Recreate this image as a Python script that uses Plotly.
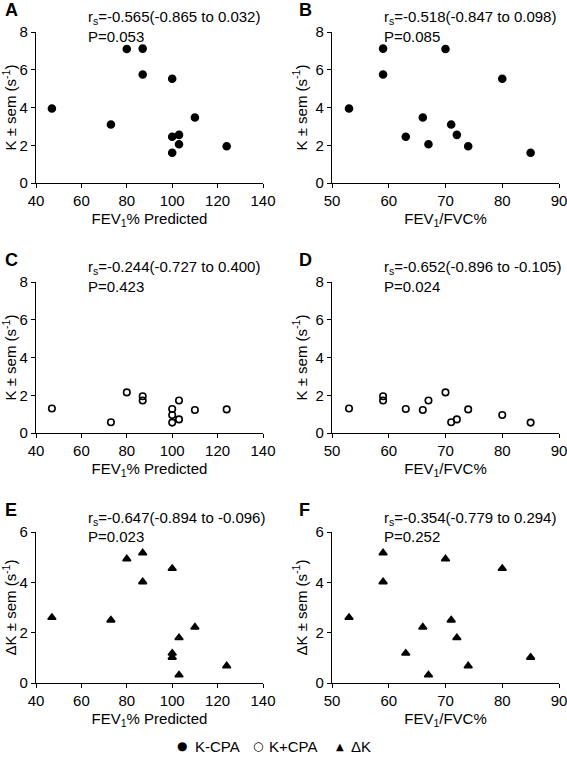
import plotly.graph_objects as go

# Per-subject values
fev1_pred = [47, 73, 80, 87, 87, 100, 110, 100, 103, 103, 124, 100]
fev1_fvc = [53, 71, 70, 59, 59, 80, 66, 63, 72, 67, 74, 85]
k_minus_cpa = [3.95, 3.10, 7.10, 7.12, 5.75, 5.52, 3.47, 2.45, 2.55, 2.05, 1.95, 1.60]
k_plus_cpa = [1.30, 0.57, 2.15, 1.95, 1.72, 0.95, 1.22, 1.27, 0.72, 1.72, 1.25, 0.55]
delta_k = [2.60, 2.50, 4.93, 5.17, 4.02, 4.55, 2.22, 1.18, 1.80, 0.32, 0.68, 1.02]

panel_letters = ["A", "B", "C", "D", "E", "F"]
stats_r = ["-0.565(-0.865 to 0.032)", "-0.518(-0.847 to 0.098)",
           "-0.244(-0.727 to 0.400)", "-0.652(-0.896 to -0.105)",
           "-0.647(-0.894 to -0.096)", "-0.354(-0.779 to 0.294)"]
stats_p = ["0.053", "0.085", "0.423", "0.024", "0.023", "0.252"]
legend_labels = ["K-CPA", "K+CPA", "ΔK"]
legend_glyphs = ["●", "○", "▲"]

W, H = 567, 757
FONT = "Liberation Sans, Arial, sans-serif"

# pixel layout
col_x = [(36, 263), (332, 559)]
row_y = [(32, 183), (282, 433), (532, 683)]

fig = go.Figure()

panels = [
    (fev1_pred, k_minus_cpa, "circle", "FEV<sub>1</sub>% Predicted", [40, 140], 20, "K ± sem (s<sup>-1</sup>)", [0, 8]),
    (fev1_fvc, k_minus_cpa, "circle", "FEV<sub>1</sub>/FVC%", [50, 90], 10, "K ± sem (s<sup>-1</sup>)", [0, 8]),
    (fev1_pred, k_plus_cpa, "circle-open", "FEV<sub>1</sub>% Predicted", [40, 140], 20, "K ± sem (s<sup>-1</sup>)", [0, 8]),
    (fev1_fvc, k_plus_cpa, "circle-open", "FEV<sub>1</sub>/FVC%", [50, 90], 10, "K ± sem (s<sup>-1</sup>)", [0, 8]),
    (fev1_pred, delta_k, "triangle-up", "FEV<sub>1</sub>% Predicted", [40, 140], 20, "ΔK ± sem (s<sup>-1</sup>)", [0, 6]),
    (fev1_fvc, delta_k, "triangle-up", "FEV<sub>1</sub>/FVC%", [50, 90], 10, "ΔK ± sem (s<sup>-1</sup>)", [0, 6]),
]

annotations = []
layout_axes = {}
for i, (xs, ys, sym, xt, xr, xd, yt, yr) in enumerate(panels):
    r, c = divmod(i, 2)
    n = "" if i == 0 else str(i + 1)
    xa, ya = "x" + n, "y" + n
    x0, x1 = col_x[c]
    y0, y1 = row_y[r]
    size = 7 if sym == "circle" else (6.5 if sym == "circle-open" else 7)
    fig.add_trace(go.Scatter(
        x=xs, y=ys, mode="markers", xaxis=xa, yaxis=ya, showlegend=False,
        hoverinfo="skip",
        marker=dict(symbol=sym, size=size, color="black", line=dict(color="black", width=1.6)),
    ))
    axcommon = dict(showline=True, linecolor="black", linewidth=1.3, ticks="outside",
                    ticklen=4, tickwidth=1.3, tickcolor="black", showgrid=False,
                    zeroline=False, automargin=False, ticklabeloverflow="allow",
                    tickfont=dict(size=15, color="black", family=FONT),
                    title_font=dict(size=15, color="black", family=FONT))
    layout_axes["xaxis" + n] = dict(axcommon, domain=[x0 / W, x1 / W], anchor=ya,
                                    range=xr, dtick=xd, tick0=xr[0],
                                    title=dict(text=xt, standoff=5))
    layout_axes["yaxis" + n] = dict(axcommon, domain=[1 - y1 / H, 1 - y0 / H], anchor=xa,
                                    range=yr, dtick=2, tick0=0,
                                    title=dict(text=yt, standoff=4))
    annotations.append(dict(
        xref=xa + " domain", yref="paper", x=0.22, y=1 - (y0 - 14) / H,
        xanchor="left", yanchor="middle", showarrow=False,
        text="r<sub>s</sub>=" + stats_r[i], font=dict(size=15, color="black", family=FONT)))
    annotations.append(dict(
        xref=xa + " domain", yref="paper", x=0.22, y=1 - (y0 + 4) / H,
        xanchor="left", yanchor="middle", showarrow=False,
        text="P=" + stats_p[i], font=dict(size=15, color="black", family=FONT)))
    annotations.append(dict(
        xref="paper", yref="paper", x=(3 if c == 0 else 297) / W, y=1 - (y0 - 22) / H,
        xanchor="left", yanchor="middle", showarrow=False,
        text="<b>" + panel_letters[i] + "</b>", font=dict(size=18, color="black", family=FONT)))

# legend row drawn as text
glyph_x = [182, 258, 340]
label_x = [193, 267, 349]
glyph_sizes = [12, 12, 10]
for g, gx, lab, lx, gs in zip(legend_glyphs, glyph_x, legend_labels, label_x, glyph_sizes):
    annotations.append(dict(xref="paper", yref="paper", x=gx / W, y=1 - 746 / H,
                            xanchor="center", yanchor="middle", showarrow=False, text=g,
                            font=dict(size=gs, color="black", family="DejaVu Sans")))
    annotations.append(dict(xref="paper", yref="paper", x=lx / W, y=1 - 746 / H,
                            xanchor="left", yanchor="middle", showarrow=False, text=lab,
                            font=dict(size=15, color="black", family=FONT)))

fig.update_layout(
    width=W, height=H, margin=dict(l=0, r=0, t=0, b=0, autoexpand=False),
    paper_bgcolor="white", plot_bgcolor="white",
    font=dict(family=FONT, color="black", size=15),
    annotations=annotations,
    showlegend=False,
    **layout_axes,
)

fig.write_html(
    "out.html",
    config={"displayModeBar": False},
    post_script="document.body.style.margin='0';document.body.style.overflow='hidden';",
)
